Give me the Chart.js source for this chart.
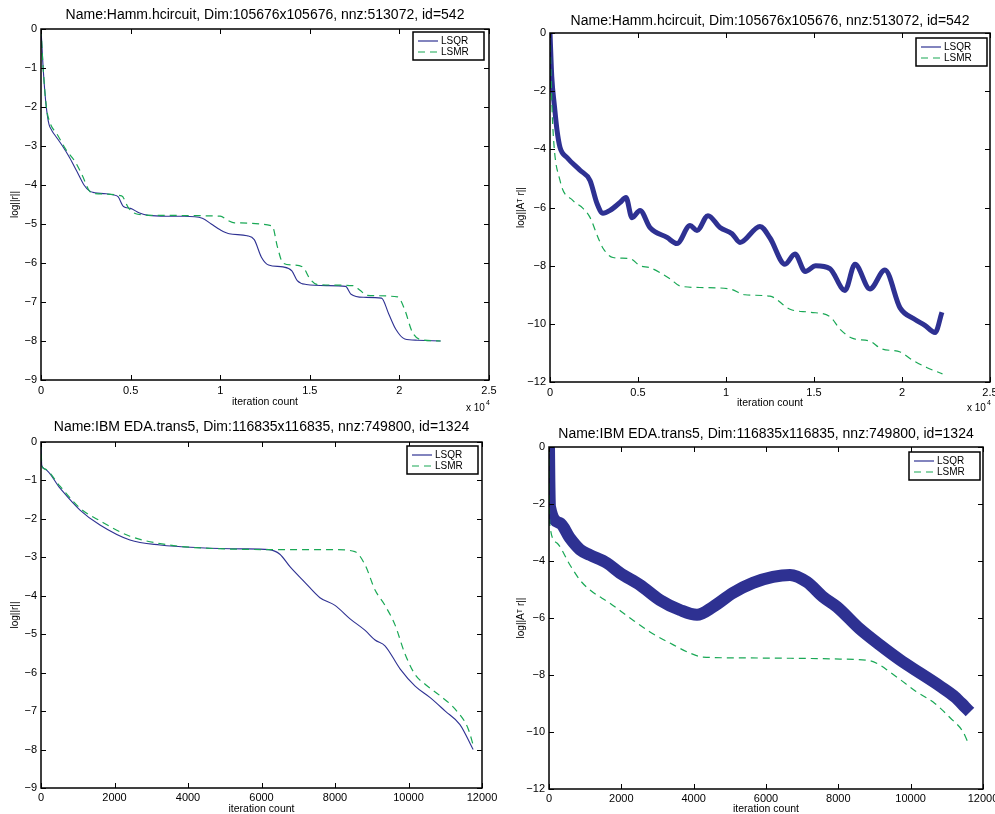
<!DOCTYPE html>
<html>
<head>
<meta charset="utf-8">
<script src="https://cdn.jsdelivr.net/npm/chart.js@4.4.0/dist/chart.umd.min.js"></script>
<style>
  body { margin: 0; background: #fff; width: 995px; height: 814px; overflow: hidden; position: relative; }
  canvas { position: absolute; }
</style>
</head>
<body>
<canvas id="hammRes" width="497" height="424" style="left:0;top:0"></canvas>
<canvas id="hammAtr" width="498" height="424" style="left:497px;top:0"></canvas>
<canvas id="ibmRes" width="497" height="402" style="left:0;top:412px"></canvas>
<canvas id="ibmAtr" width="498" height="402" style="left:497px;top:412px"></canvas>
<script>
// Hamm.hcircuit, log||r||
const hammResQrIter = [0, 60, 120, 250, 350, 450, 600, 900, 1200, 1600, 2000, 2400, 2700, 3000, 3500, 4000, 4300, 4600, 5000, 5500, 6000, 7000, 8000, 9000, 9500, 10000, 10500, 11500, 11900, 12300, 12700, 13500, 14000, 14300, 14800, 16000, 17000, 17300, 18000, 19000, 19400, 19800, 20300, 21000, 22300];
const hammResQr = [0, -0.5, -1.0, -1.8, -2.2, -2.45, -2.6, -2.8, -3.0, -3.3, -3.65, -4.0, -4.15, -4.2, -4.22, -4.25, -4.3, -4.55, -4.6, -4.72, -4.78, -4.8, -4.8, -4.85, -5.0, -5.15, -5.25, -5.3, -5.4, -5.85, -6.05, -6.1, -6.2, -6.45, -6.55, -6.58, -6.6, -6.8, -6.88, -6.9, -7.3, -7.7, -7.95, -7.98, -8.0];
const hammResMrIter = [0, 120, 300, 500, 900, 1400, 1900, 2300, 2700, 3000, 4500, 4900, 5400, 6500, 10000, 10400, 10800, 12900, 13200, 13500, 14000, 14600, 15000, 15400, 17400, 17800, 18200, 19900, 20300, 20700, 21100, 22300];
const hammResMr = [0, -1.0, -2.0, -2.4, -2.7, -3.1, -3.4, -3.75, -4.15, -4.22, -4.28, -4.6, -4.75, -4.78, -4.8, -4.9, -4.97, -5.05, -5.6, -6.0, -6.05, -6.1, -6.4, -6.55, -6.58, -6.7, -6.83, -6.87, -7.2, -7.75, -7.95, -8.0];

// Hamm.hcircuit, log||A^T r||
const hammAtrQrIter = [0, 100, 250, 398, 568, 966, 1705, 2273, 2670, 3011, 3409, 3977, 4318, 4659, 5114, 5682, 6648, 7216, 7955, 8352, 8977, 9659, 10341, 10795, 11930, 12500, 13350, 13920, 14500, 15100, 15900, 16760, 17330, 18180, 19030, 19890, 20740, 21300, 21880, 22270];
const hammAtrQr = [0, -1.5, -2.5, -3.34, -3.93, -4.28, -4.72, -5.07, -5.86, -6.2, -6.1, -5.83, -5.66, -6.35, -6.1, -6.69, -7.03, -7.24, -6.62, -6.79, -6.28, -6.69, -6.9, -7.2, -6.65, -7.05, -7.95, -7.6, -8.2, -8.0, -8.1, -8.85, -7.95, -8.8, -8.15, -9.45, -9.85, -10.05, -10.3, -9.6];
const hammAtrMrIter = [0, 60, 170, 568, 1307, 1875, 2273, 2727, 3011, 3580, 4545, 5114, 5682, 6818, 7400, 8520, 10200, 11080, 12500, 13640, 14770, 15900, 16500, 17200, 18200, 18800, 19900, 20600, 21400, 22300];
const hammAtrMr = [0, -1.5, -3.34, -5.07, -5.76, -6.03, -6.34, -7.03, -7.4, -7.72, -7.76, -8.0, -8.07, -8.45, -8.7, -8.75, -8.8, -9.0, -9.05, -9.5, -9.6, -9.75, -10.2, -10.5, -10.6, -10.85, -10.97, -11.25, -11.5, -11.72];

// IBM EDA.trans5, log||r||
const ibmResQrIter = [0, 20, 100, 517, 1061, 1605, 2420, 3238, 4326, 5500, 6200, 6500, 6780, 7180, 7590, 8000, 8410, 8820, 9090, 9360, 9770, 10180, 10590, 11000, 11400, 11760];
const ibmResQr = [0, -0.6, -0.7, -1.2, -1.77, -2.16, -2.55, -2.68, -2.75, -2.78, -2.8, -2.92, -3.25, -3.65, -4.05, -4.25, -4.6, -4.9, -5.15, -5.3, -5.9, -6.35, -6.65, -7.0, -7.35, -8.0];
const ibmResMrIter = [0, 20, 100, 517, 1061, 1605, 2420, 3500, 5000, 7000, 8000, 8540, 8820, 9090, 9360, 9630, 9900, 10180, 10450, 10860, 11270, 11620, 11780];
const ibmResMr = [0, -0.6, -0.7, -1.15, -1.72, -2.05, -2.45, -2.68, -2.78, -2.8, -2.8, -2.85, -3.2, -3.85, -4.25, -4.75, -5.5, -6.05, -6.3, -6.6, -6.95, -7.45, -7.95];

// IBM EDA.trans5, log||A^T r||
const ibmAtrQrIter = [0, 10, 28, 304, 580, 857, 1134, 1600, 1963, 2516, 3069, 3622, 4092, 4534, 5087, 5640, 6193, 6663, 7133, 7575, 7962, 8598, 9151, 9704, 10257, 10810, 11225, 11501, 11640];
const ibmAtrQr = [0, -1.2, -2.1, -2.67, -3.2, -3.6, -3.79, -4.07, -4.42, -4.84, -5.37, -5.72, -5.89, -5.61, -5.12, -4.77, -4.56, -4.49, -4.74, -5.26, -5.61, -6.39, -6.95, -7.47, -7.93, -8.39, -8.77, -9.12, -9.3];
const ibmAtrMrIter = [0, 10, 30, 220, 580, 857, 1134, 1686, 2240, 2792, 3345, 3898, 4258, 5280, 8045, 8870, 9150, 9430, 9700, 10120, 10670, 11090, 11450, 11610];
const ibmAtrMr = [0, -2.0, -2.8, -3.37, -4.14, -4.67, -5.02, -5.48, -6.0, -6.49, -6.88, -7.23, -7.37, -7.4, -7.44, -7.5, -7.65, -7.9, -8.15, -8.55, -9.0, -9.5, -10.0, -10.45];

const hammTitle = "Name:Hamm.hcircuit, Dim:105676x105676, nnz:513072, id=542";
const ibmTitle = "Name:IBM EDA.trans5, Dim:116835x116835, nnz:749800, id=1324";

const BLUE = "#2e3192", GREEN = "#19a855";
const FONT = '"Liberation Sans", Arial, sans-serif';
Chart.defaults.font.family = FONT;
Chart.defaults.color = "#000";

const pairs = (xs, ys) => xs.map((x, i) => ({ x, y: ys[i] }));
const minus = v => v < 0 ? "\u2212" + (-v) : String(v);

// matlab-ish box, inward ticks, title, legend, exponent
const matlabAxes = {
  id: "matlabAxes",
  afterDraw(chart, args, o) {
    const { ctx, chartArea: a, scales: { x, y } } = chart;
    ctx.save();
    ctx.strokeStyle = "#000";
    ctx.lineWidth = 1;
    ctx.beginPath();
    x.ticks.forEach(t => {
      const p = Math.round(x.getPixelForValue(t.value)) + 0.5;
      ctx.moveTo(p, a.bottom); ctx.lineTo(p, a.bottom - 5);
      ctx.moveTo(p, a.top); ctx.lineTo(p, a.top + 5);
    });
    y.ticks.forEach(t => {
      const p = Math.round(y.getPixelForValue(t.value)) + 0.5;
      ctx.moveTo(a.left, p); ctx.lineTo(a.left + 5, p);
      ctx.moveTo(a.right, p); ctx.lineTo(a.right - 5, p);
    });
    ctx.stroke();
    ctx.lineWidth = 1.5;
    ctx.strokeRect(a.left, a.top, a.right - a.left, a.bottom - a.top);

    ctx.fillStyle = "#000";
    ctx.font = "14px " + FONT;
    ctx.textAlign = "center";
    ctx.textBaseline = "middle";
    ctx.fillText(o.title, (a.left + a.right) / 2, o.titleY);

    if (o.expY) {
      ctx.font = "10px " + FONT;
      ctx.textAlign = "left";
      ctx.fillText("x 10", a.right - 23, o.expY);
      ctx.font = "7px " + FONT;
      ctx.fillText("4", a.right - 3, o.expY - 5);
    }

    // legend
    const bw = 71, bh = 28;
    const bx = a.right - o.legRight - bw, by = a.top + o.legTop;
    ctx.fillStyle = "#fff";
    ctx.fillRect(bx, by, bw, bh);
    ctx.lineWidth = 1.5;
    ctx.strokeRect(bx, by, bw, bh);
    ctx.font = "10px " + FONT;
    ctx.textAlign = "left";
    chart.data.datasets.forEach((ds, i) => {
      const ly = by + 9 + i * 11;
      ctx.strokeStyle = ds.borderColor;
      ctx.lineWidth = 1.2;
      ctx.setLineDash(ds.borderDash || []);
      ctx.beginPath();
      ctx.moveTo(bx + 5, ly); ctx.lineTo(bx + 25, ly);
      ctx.stroke();
      ctx.setLineDash([]);
      ctx.fillStyle = "#000";
      ctx.fillText(ds.label, bx + 28, ly);
    });
    ctx.restore();
  }
};

function fixSize(size) {
  return s => {
    if (s.isHorizontal()) s.height = size; else s.width = size;
    s.paddingLeft = s.paddingRight = s.paddingTop = s.paddingBottom = 0;
  };
}

function panel(id, p) {
  new Chart(document.getElementById(id), {
    type: "line",
    data: {
      datasets: [
        { label: "LSQR", data: pairs(p.qrIter, p.qr), borderColor: BLUE, borderWidth: p.qrWidth,
          borderJoinStyle: "round", order: 1 },
        { label: "LSMR", data: pairs(p.mrIter, p.mr), borderColor: GREEN, borderWidth: 1.2,
          borderDash: [7, 5], order: 0 }
      ]
    },
    options: {
      responsive: false,
      animation: false,
      devicePixelRatio: 1,
      parsing: false,
      elements: { point: { radius: 0 }, line: { cubicInterpolationMode: "monotone", fill: false } },
      layout: { padding: { top: p.top, right: p.right, left: 0, bottom: 0 } },
      plugins: {
        legend: { display: false },
        tooltip: { enabled: false },
        matlabAxes: { title: p.title, titleY: p.titleY, expY: p.expY,
                      legRight: p.legRight, legTop: p.legTop }
      },
      scales: {
        x: {
          type: "linear", min: 0, max: p.xMax,
          grid: { display: false, drawTicks: false },
          border: { display: false },
          ticks: { stepSize: p.xStep, autoSkip: false, padding: p.xTickPad, font: { size: 11 },
                   callback: v => p.xScale ? v / p.xScale : v },
          title: { display: true, text: "iteration count", font: { size: 10.5, lineHeight: 1 },
                   padding: { top: 0, bottom: p.xTitlePad } },
          afterFit: fixSize(p.xHeight)
        },
        y: {
          min: p.yMin, max: 0,
          grid: { display: false, drawTicks: false },
          border: { display: false },
          ticks: { stepSize: p.yStep, autoSkip: false, padding: 4, font: { size: 11 }, callback: minus },
          title: { display: true, text: p.yLabel, font: { size: 10 },
                   padding: { top: p.yTitlePad, bottom: 0 } },
          afterFit: fixSize(p.yWidth)
        }
      }
    },
    plugins: [matlabAxes]
  });
}

panel("hammRes", {
  qrIter: hammResQrIter, qr: hammResQr, mrIter: hammResMrIter, mr: hammResMr, qrWidth: 1.1,
  title: hammTitle, titleY: 15, expY: 408, legRight: 5, legTop: 3,
  top: 29, right: 8, xHeight: 44, yWidth: 41, xMax: 25000, xStep: 5000, xScale: 10000,
  xTickPad: 4, xTitlePad: 17, yMin: -9, yStep: 1, yLabel: "log||r||", yTitlePad: 9
});
panel("hammAtr", {
  qrIter: hammAtrQrIter, qr: hammAtrQr, mrIter: hammAtrMrIter, mr: hammAtrMr, qrWidth: 5,
  title: hammTitle, titleY: 21, expY: 408, legRight: 3, legTop: 5,
  top: 33, right: 5, xHeight: 42, yWidth: 53, xMax: 25000, xStep: 5000, xScale: 10000,
  xTickPad: 4, xTitlePad: 16, yMin: -12, yStep: 2, yLabel: "log||A\u1d40 r||", yTitlePad: 18
});
panel("ibmRes", {
  qrIter: ibmResQrIter, qr: ibmResQr, mrIter: ibmResMrIter, mr: ibmResMr, qrWidth: 1.1,
  title: ibmTitle, titleY: 15, expY: 0, legRight: 4, legTop: 4,
  top: 30, right: 15, xHeight: 26, yWidth: 41, xMax: 12000, xStep: 2000, xScale: 0,
  xTickPad: 3, xTitlePad: 0, yMin: -9, yStep: 1, yLabel: "log||r||", yTitlePad: 9
});
panel("ibmAtr", {
  qrIter: ibmAtrQrIter, qr: ibmAtrQr, mrIter: ibmAtrMrIter, mr: ibmAtrMr, qrWidth: 12,
  title: ibmTitle, titleY: 22, expY: 0, legRight: 3, legTop: 5,
  top: 35, right: 12, xHeight: 25, yWidth: 52, xMax: 12000, xStep: 2000, xScale: 0,
  xTickPad: 3, xTitlePad: 0, yMin: -12, yStep: 2, yLabel: "log||A\u1d40 r||", yTitlePad: 18
});
</script>
</body>
</html>
